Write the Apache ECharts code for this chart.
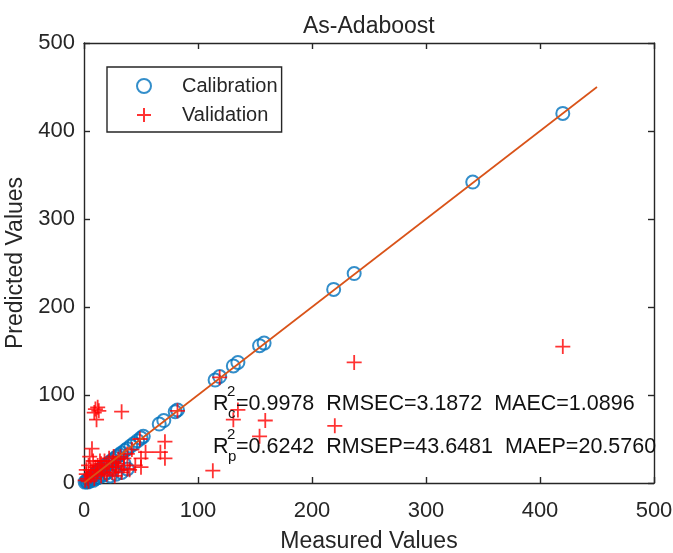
<!DOCTYPE html>
<html>
<head>
<meta charset="utf-8">
<script src="https://cdn.jsdelivr.net/npm/echarts@6/dist/echarts.min.js"></script>
<style>html,body{margin:0;padding:0;background:#fff;}#c{width:673px;height:553px;}</style>
</head>
<body>
<div id="c"></div>
<script>
// ---- data ----
const xTicks = [0, 100, 200, 300, 400, 500];
const yTicks = [0, 100, 200, 300, 400, 500];
const calibration = [
  [420,420],[341,342],[237,238],[219,220],[158,159],[154,156],[135,137],[131,133],
  [119,121],[115,117],[82,83],[80,81],[70,71],[66,67],[52,53],[50,51],[47,48],[44,45],
  [41,42],[38,39],[36,37],[33,34],[31,32],[29,30],[27,28],[25,26],[23,24],[21,22],
  [19,20],[17,18],[15,16],[14,15],[12,13],[11,12],[10,10],[9,9],[8,8],[7,7],[6,6],
  [5,5],[4,4],[3,3],[2,2],[1,1],[20,12],[25,15],[30,20],[35,22],[33,12],[38,16],
  [15,8],[18,10],[12,6],[8,3],[5,2],[3,1],[10,5],[28,10],[23,8],[6,4]
];
const validation = [
  [420,155],[237,137],[220,65],[135,83],[131,72],[159,71],[154,53],[113,14],[119,120],
  [82,82],[10,84],[12,86],[13,82],[9,80],[11,72],[33,81],[49,50],[71,47],[67,35],
  [71,28],[50,28],[54,35],[40,15],[50,18],[7,39],[5,30],[8,25],[4,20],[15,22],[18,25],
  [20,20],[22,18],[25,24],[28,22],[30,27],[32,30],[35,28],[38,33],[42,38],[30,15],
  [25,12],[20,10],[15,8],[12,14],[10,18],[8,12],[6,8],[3,5],[2,10],[16,16],[18,12],
  [22,28],[26,30],[28,18],[35,20],[38,16],[45,20],[12,20],[14,25],[6,15],[9,5],[4,2],
  [1,3],[2,15],[27,8],[33,12],[11,10]
];
const fitLine = [[0,0],[450,450]];
const title = 'As-Adaboost';
const xName = 'Measured Values';
const yName = 'Predicted Values';
const statsCal = ['R', '2', 'c', '=0.9978  RMSEC=3.1872  MAEC=1.0896'];
const statsVal = ['R', '2', 'p', '=0.6242  RMSEP=43.6481  MAEP=20.5760'];

// ---- chart ----
const FONT = "'Liberation Sans', Arial, sans-serif";
const TXT = '#262626';
const chart = echarts.init(document.getElementById('c'), null, {renderer: 'canvas'});
const axisCommon = {
  min: 0, max: 500, interval: 100,
  axisLine: {show: true, onZero: false, lineStyle: {color: TXT, width: 1.4}},
  axisTick: {show: true, inside: true, length: 6, lineStyle: {color: TXT, width: 1.4}},
  splitLine: {show: false}
};
const plusPath = 'path://M0,-1L0,1M-1,0L1,0';

function statText(parts, x, y) {
  return [
    {type: 'text', left: x, top: y, z: 100, style: {text: parts[0], font: '21.5px ' + FONT, fill: '#111'}},
    {type: 'text', left: x + 14, top: y - 9, z: 100, style: {text: parts[1], font: '15px ' + FONT, fill: '#111'}},
    {type: 'text', left: x + 15, top: y + 13, z: 100, style: {text: parts[2], font: '15px ' + FONT, fill: '#111'}},
    {type: 'text', left: x + 23, top: y, z: 100, style: {text: parts[3], font: '21.5px ' + FONT, fill: '#111'}}
  ];
}

chart.setOption({
  backgroundColor: '#fff',
  animation: false,
  grid: {left: 84, right: 19, top: 43, bottom: 70, containLabel: false, outerBoundsMode: 'none'},
  legend: {
    data: ['Calibration', 'Validation'],
    orient: 'vertical', left: 107, top: 67,
    padding: [9, 4, 7, 29], itemGap: 9,
    itemWidth: 66, itemHeight: 14,
    borderColor: TXT, borderWidth: 1.4, backgroundColor: '#fff',
    textStyle: {fontFamily: FONT, fontSize: 20, color: TXT},
    selectedMode: false
  },
  xAxis: [
    Object.assign({}, axisCommon, {type: 'value', position: 'bottom', name: xName,
      nameLocation: 'middle', nameGap: 47,
      nameTextStyle: {fontFamily: FONT, fontSize: 23, color: TXT},
      axisLabel: {show: true, margin: 17, fontFamily: FONT, fontSize: 22, color: TXT,
        formatter: v => xTicks.includes(v) ? String(v) : ''}}),
    Object.assign({}, axisCommon, {type: 'value', position: 'top', axisLabel: {show: false}})
  ],
  yAxis: [
    Object.assign({}, axisCommon, {type: 'value', position: 'left', name: yName,
      nameLocation: 'middle', nameGap: 52,
      nameTextStyle: {fontFamily: FONT, fontSize: 23, color: TXT},
      axisLabel: {show: true, margin: 9, fontFamily: FONT, fontSize: 22, color: TXT,
        formatter: v => yTicks.includes(v) ? String(v) : ''}}),
    Object.assign({}, axisCommon, {type: 'value', position: 'right', axisLabel: {show: false}})
  ],
  series: [
    {name: 'Calibration', type: 'scatter', data: calibration, symbol: 'circle', symbolSize: 13,
      itemStyle: {color: 'rgba(0,0,0,0)', borderColor: '#0072BD', borderWidth: 2}, z: 2},
    {name: 'Validation', type: 'scatter', data: validation, symbol: plusPath, symbolSize: 15,
      itemStyle: {color: '#FF0000', borderColor: '#FF0000', borderWidth: 1.8}, z: 3},
    {name: 'fit', type: 'line', data: fitLine, symbol: 'none', z: 4,
      lineStyle: {color: '#D95319', width: 1.7}}
  ],
  graphic: [
    {type: 'text', left: 303, top: 15, style: {text: title, font: '23px ' + FONT, fill: TXT}}
  ].concat(statText(statsCal, 213, 393)).concat(statText(statsVal, 213, 436))
});
</script>
</body>
</html>
